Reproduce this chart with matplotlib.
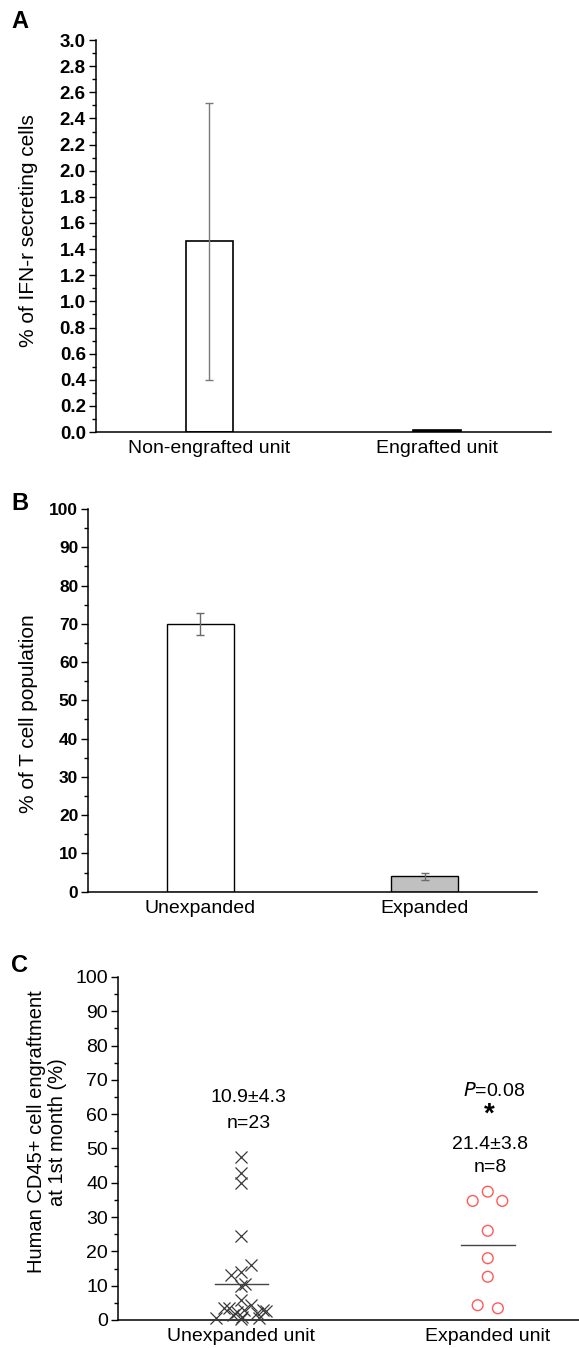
import matplotlib.pyplot as plt
import numpy as np
from matplotlib.ticker import MultipleLocator

plt.rcParams['font.family'] = ['Liberation Sans', 'DejaVu Sans']

# Panel A
a_groups = ["Non-engrafted unit", "Engrafted unit"]
a_values = [1.46, 0.015]
a_err = [1.06, 0.0]

# Panel B
b_groups = ["Unexpanded", "Expanded"]
b_values = [70.0, 4.0]
b_err = [2.8, 1.0]

# Panel C
c_groups = ["Unexpanded unit", "Expanded unit"]
unexp_y = [47.6, 42.9, 40.0, 24.5, 16.0, 13.1, 14.0, 10.6, 10.0,
           5.8, 4.5, 3.4, 3.4, 3.0, 2.5, 2.3, 2.0, 1.5, 1.0, 0.5, 0.5, 0.3, 2.8]
unexp_dx = [0, 0, 0, 0, 0.039, -0.04, 0, 0.015, 0,
            0, 0.042, -0.048, -0.071, 0.087, 0.10, -0.018, 0.065, -0.033, 0.005, -0.10, 0.071, 0, 0.012]
exp_y = [37.4, 34.7, 34.7, 26.0, 18.0, 12.6, 4.3, 3.4]
exp_dx = [0, -0.061, 0.059, 0, 0, 0, -0.041, 0.041]
c_mean_lines = [10.4, 21.8]

fig = plt.figure(figsize=(5.79, 13.48), dpi=100)


def style_axis(ax, major, minor, ymax, size, weight):
    ax.spines['top'].set_visible(False)
    ax.spines['right'].set_visible(False)
    ax.spines['left'].set_linewidth(1.1)
    ax.spines['bottom'].set_linewidth(1.1)
    ax.set_ylim(0, ymax)
    ax.yaxis.set_major_locator(MultipleLocator(major))
    ax.yaxis.set_minor_locator(MultipleLocator(minor))
    ax.tick_params(axis='y', which='major', direction='out', length=5, width=1.0,
                   labelsize=size, pad=2)
    ax.tick_params(axis='y', which='minor', direction='out', length=3, width=1.0)
    for t in ax.get_yticklabels():
        t.set_fontweight(weight)
    ax.tick_params(axis='x', length=0, labelsize=14, pad=6)


# ---- A ----
axA = fig.add_axes([0.165, 0.6795, 0.787, 0.2908])
x = np.arange(1, 3)
axA.bar(x, a_values, 0.21, color=['white', 'black'], edgecolor='black', linewidth=1.2)
axA.errorbar(x[:1], a_values[:1], yerr=a_err[:1], fmt='none', ecolor='#7a7a7a',
             elinewidth=1.0, capsize=3, capthick=1.0)
axA.set_xlim(0.5, 2.5)
axA.set_xticks(x, a_groups)
style_axis(axA, 0.2, 0.1, 3.0, 13.5, 'bold')
axA.yaxis.set_major_formatter(plt.FormatStrFormatter('%.1f'))
for t in axA.get_yticklabels():
    t.set_fontweight('bold')
fig.text(29 / 579, 1 - 231 / 1348, "% of IFN-r secreting cells", rotation=90,
         ha='center', va='center', fontsize=15)
fig.text(11 / 579, 1 - 22 / 1348, "A", fontsize=17, fontweight='bold', va='center')

# ---- B ----
axB = fig.add_axes([0.152, 0.3385, 0.7755, 0.2839])
axB.bar(x, b_values, 0.3, color=['white', '#c0c0c0'], edgecolor='black', linewidth=1.0)
axB.errorbar(x, b_values, yerr=b_err, fmt='none', ecolor='#6a6a6a',
             elinewidth=1.0, capsize=3, capthick=1.0)
axB.set_xlim(0.5, 2.5)
axB.set_xticks(x, b_groups)
style_axis(axB, 10, 5, 100, 12.5, 'bold')
fig.text(29 / 579, 1 - 714 / 1348, "% of T cell population", rotation=90,
         ha='center', va='center', fontsize=15)
fig.text(11 / 579, 1 - 503 / 1348, "B", fontsize=17, fontweight='bold', va='center')

# ---- C ----
axC = fig.add_axes([0.2035, 0.0208, 0.7965, 0.2545])
axC.scatter(1 + np.array(unexp_dx), unexp_y, marker='x', s=75, color='#3a3a3a',
            linewidths=0.9, clip_on=False, zorder=3)
axC.scatter(2 + np.array(exp_dx), exp_y, marker='o', s=60, facecolors='none',
            edgecolors='#ff5a5a', linewidths=1.0, zorder=3)
for i, m in enumerate(c_mean_lines):
    axC.plot([i + 1 - 0.108, i + 1 + 0.11], [m, m], color='#444444', linewidth=1.0)
axC.set_xlim(0.5, 2.37)
axC.set_xticks(x, c_groups)
style_axis(axC, 10, 5, 100, 14, 'normal')
axC.text(1.03, 64.7, "10.9±4.3", ha='center', va='center', fontsize=14)
axC.text(1.03, 57.4, "n=23", ha='center', va='center', fontsize=14)
axC.text(2.026, 66.8, r"$\it{P}$=0.08", ha='center', va='center', fontsize=14)
axC.text(2.008, 59.8, "*", ha='center', va='center', fontsize=20, fontweight='bold')
axC.text(2.011, 51.0, "21.4±3.8", ha='center', va='center', fontsize=14)
axC.text(2.011, 44.3, "n=8", ha='center', va='center', fontsize=14)
fig.text(47 / 579, 1 - 1132 / 1348, "Human CD45+ cell engraftment\nat 1st month (%)",
         rotation=90, ha='center', va='center', fontsize=14.5, linespacing=1.15)
fig.text(11 / 579, 1 - 965 / 1348, "C", fontsize=17, fontweight='bold', va='center')

fig.savefig('out.png', dpi=100)
